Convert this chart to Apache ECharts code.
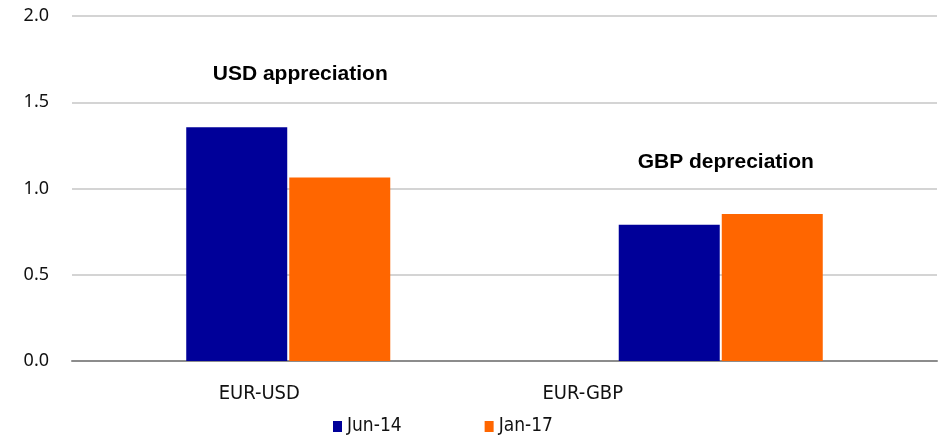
<!DOCTYPE html>
<html>
<head>
<meta charset="utf-8">
<script src="https://cdn.jsdelivr.net/npm/echarts@6/dist/echarts.min.js"></script>
<style>
  html, body { margin: 0; padding: 0; background: #fff; }
  #chart { width: 950px; height: 436px; }
</style>
</head>
<body>
<div id="chart"></div>
<script>
// Exchange rates (units of foreign currency per euro)
const categories = ['EUR-USD', 'EUR-GBP'];
const jun14 = [1.355, 0.79];
const jan17 = [1.064, 0.852];
const seriesNames = ['Jun-14', 'Jan-17'];
const yTicks = { min: 0, max: 2, interval: 0.5 };

// Callout texts placed above each pair of bars
const calloutText = ['USD appreciation', 'GBP depreciation'];
const calloutValue = [1.66, 1.15];

const narrow = '"DejaVu Sans Condensed", "Liberation Sans", Arial, sans-serif';

const chart = echarts.init(document.getElementById('chart'), null, { renderer: 'canvas' });

chart.setOption({
  animation: false,
  backgroundColor: '#ffffff',
  grid: { left: 72, right: 13, top: 16, bottom: 75 },
  legend: {
    data: seriesNames,
    left: 333,
    top: 417,
    padding: 0,
    itemWidth: 9,
    itemHeight: 11,
    itemGap: 83,
    icon: 'rect',
    textStyle: { fontFamily: narrow, fontSize: 19, color: '#111' }
  },
  xAxis: {
    type: 'category',
    data: categories,
    axisTick: { show: false },
    axisLine: { lineStyle: { color: '#8c8c8c', width: 2 } },
    axisLabel: {
      margin: 23,
      fontFamily: narrow,
      fontSize: 20,
      color: '#111',
      formatter: function (v, i) { return '{c' + i + '|' + v + '}'; },
      rich: {
        c0: { fontFamily: narrow, fontSize: 20, color: '#111', padding: [0, 58, 0, 0] },
        c1: { fontFamily: narrow, fontSize: 20, color: '#111', padding: [0, 276, 0, 0] }
      }
    }
  },
  yAxis: {
    type: 'value',
    min: yTicks.min,
    max: yTicks.max,
    interval: yTicks.interval,
    axisLine: { show: false },
    axisTick: { show: false },
    splitLine: { lineStyle: { color: '#c6c6c6', width: 1.5 } },
    axisLabel: {
      margin: 23,
      fontFamily: '"Noto Sans", "Liberation Sans", sans-serif',
      fontSize: 18,
      color: '#111',
      formatter: function (v) { return v.toFixed(1); }
    }
  },
  series: [
    {
      name: seriesNames[0],
      type: 'bar',
      data: jun14,
      barWidth: 101,
      barGap: '2%',
      itemStyle: { color: '#000099' }
    },
    {
      name: seriesNames[1],
      type: 'bar',
      data: jan17,
      barWidth: 101,
      barGap: '2%',
      itemStyle: { color: '#ff6600' }
    },
    {
      name: 'callouts',
      type: 'scatter',
      symbolSize: 0,
      silent: true,
      itemStyle: { opacity: 1 },
      data: categories.map(function (c, i) { return { value: [c, calloutValue[i]], name: calloutText[i] }; }),
      label: {
        show: true,
        position: 'inside',
        formatter: function (p) { return p.name; },
        fontFamily: '"Liberation Sans", Arial, sans-serif',
        fontWeight: 'bold',
        fontSize: 21,
        color: '#000',
        textBorderWidth: 0
      },
      labelLayout: function (p) {
        return { dx: p.dataIndex === 0 ? 12 : 5 };
      }
    }
  ]
});
</script>
</body>
</html>
